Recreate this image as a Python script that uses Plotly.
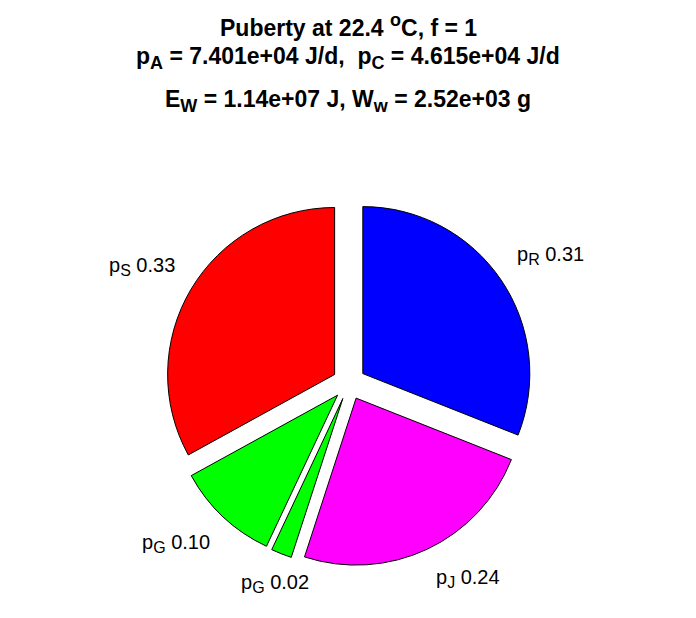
import math
import plotly.graph_objects as go

# ---- data ----
slice_keys = ["R", "J", "G", "G", "S"]
slice_fracs = [0.31, 0.24, 0.02, 0.10, 0.33]
slice_colors = ["#0000ff", "#ff00ff", "#00ff00", "#00ff00", "#ff0000"]
SUBT = '<sub><span style="font-size:18px">{}</span></sub>'
title_lines = [
    "Puberty at 22.4 <sup><span style=\"font-size:18px\">o</span></sup>C, f = 1",
    "p" + SUBT.format("A") + " = 7.401e+04 J/d,&nbsp; p" + SUBT.format("C") + " = 4.615e+04 J/d",
    "E" + SUBT.format("W") + " = 1.14e+07 J, W" + SUBT.format("w") + " = 2.52e+03 g",
]

W, H = 696, 618
OFF = 8  # page body margin compensation
PULL = 0.1
# pie geometry (pixels, page coordinates)
CX, CY, R = 349 - OFF, 383 - OFF, 167
side = 2 * R * (1 + PULL)
dom_x = [(CX - side / 2) / W, (CX + side / 2) / W]
dom_y = [1 - (CY + side / 2) / H, 1 - (CY - side / 2) / H]

fig = go.Figure(go.Pie(
    labels=[str(i) for i in range(len(slice_fracs))],
    values=slice_fracs,
    sort=False,
    direction="clockwise",
    rotation=0,
    pull=[PULL] * len(slice_fracs),
    marker=dict(colors=slice_colors, line=dict(color="black", width=1)),
    textinfo="none",
    hoverinfo="skip",
    showlegend=False,
    domain=dict(x=dom_x, y=dom_y),
))

font_lab = dict(family="Liberation Sans, Arial, sans-serif", size=20, color="black")
font_tit = dict(family="Liberation Sans, Arial, sans-serif", size=23, color="black")
SUBL = '<sub><span style="font-size:16px">{}</span></sub>'

annotations = []
cum = 0.0
for key, v in zip(slice_keys, slice_fracs):
    theta = math.radians(90 - 360 * (cum + v / 2))
    cum += v
    c, s = math.cos(theta), math.sin(theta)
    px = CX + 1.2 * R * c
    py = CY - 1.2 * R * s
    xa = "left" if c > 0.4 else ("right" if c < -0.4 else "center")
    ya = "bottom" if s > 0 else "top"
    annotations.append(dict(
        x=px / W, y=1 - py / H, xref="paper", yref="paper",
        text="p" + SUBL.format(key) + f" {v:.2f}", showarrow=False,
        xanchor=xa, yanchor=ya, font=font_lab,
    ))

title_y = [26 - OFF, 58 - OFF, 101 - OFF]
for t, yy in zip(title_lines, title_y):
    annotations.append(dict(
        x=(348 - OFF) / W, y=1 - yy / H, xref="paper", yref="paper",
        text=f"<b>{t}</b>", showarrow=False,
        xanchor="center", yanchor="middle", font=font_tit,
    ))

fig.update_layout(
    width=W, height=H,
    margin=dict(l=0, r=0, t=0, b=0),
    paper_bgcolor="white", plot_bgcolor="white",
    annotations=annotations,
)

fig.write_html("out.html")
